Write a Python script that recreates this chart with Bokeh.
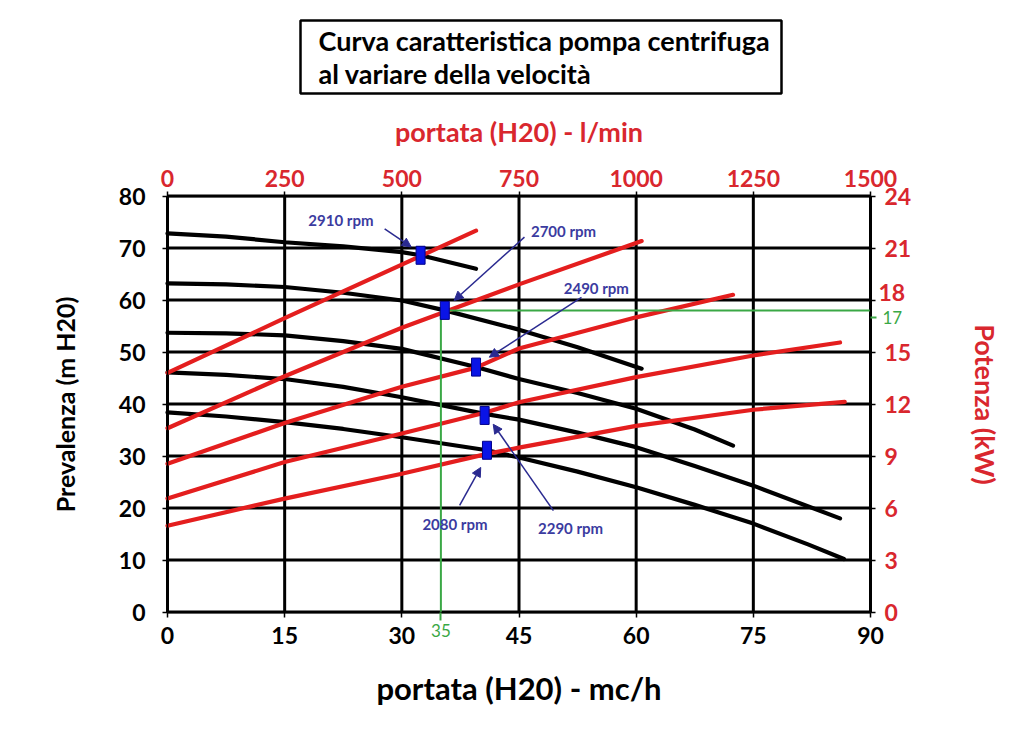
from bokeh.plotting import figure
from bokeh.models import (Range1d, LinearAxis, Arrow, NormalHead, FixedTicker,
                          ColumnDataSource)
from bokeh.embed import file_html
from bokeh.resources import INLINE
from bokeh.core.properties import value

FONT = "Lato"
RED_LINE = "#e41e1e"
RED_TXT = "#d9272e"
BLUE_TXT = "#3b3ba0"
BLUE_ARR = "#2a2a90"
GREEN = "#3aa845"

# ---------------- data ----------------
title_lines = ["Curva caratteristica pompa centrifuga", "al variare della velocità"]
speeds = ["2910 rpm", "2700 rpm", "2490 rpm", "2290 rpm", "2080 rpm"]

# head curves: flow (m3/h) vs head (m H2O)
q_2910 = [0, 7.5, 15, 22.5, 30, 32.4, 39.5]
h_2910 = [72.8, 72.2, 71.1, 70.3, 69.2, 68.6, 66.0]
q_2700 = [0, 7.5, 15, 22.5, 30, 35.5, 45, 52.5, 60.7]
h_2700 = [63.2, 63.0, 62.5, 61.4, 59.9, 58.0, 54.3, 50.9, 46.8]
q_2490 = [0, 7.5, 15, 22.5, 30, 39.5, 45, 52.5, 60, 67.5, 72.4]
h_2490 = [53.7, 53.6, 53.2, 52.1, 50.6, 47.1, 44.8, 42.1, 39.1, 35.1, 32.0]
q_2290 = [0, 7.5, 15, 22.5, 30, 40.6, 45, 52.5, 60, 67.5, 75, 86.1]
h_2290 = [46.1, 45.6, 44.8, 43.3, 41.3, 38.1, 37.0, 34.5, 31.7, 28.1, 24.3, 18.0]
q_2080 = [0, 7.5, 15, 22.5, 30, 40.9, 45, 52.5, 60, 67.5, 75, 82, 86.6]
h_2080 = [38.4, 37.6, 36.5, 35.2, 33.6, 31.1, 29.7, 27.0, 24.0, 20.6, 17.0, 13.0, 10.2]

# power curves: flow (m3/h) vs power (kW)
pq_2910 = [0, 15, 39.5]
pw_2910 = [13.8, 16.95, 22.0]
pq_2700 = [0, 15, 30, 45, 60.7]
pw_2700 = [10.6, 13.6, 16.4, 18.9, 21.4]
pq_2490 = [0, 15, 30, 39.5, 45, 60, 72.4]
pw_2490 = [8.55, 10.9, 13.0, 14.1, 15.2, 17.0, 18.3]
pq_2290 = [0, 15, 30, 40.6, 45, 60, 75, 86.1]
pw_2290 = [6.55, 8.65, 10.3, 11.5, 12.1, 13.55, 14.8, 15.55]
pq_2080 = [0, 15, 30, 40.9, 45, 60, 75, 86.7]
pw_2080 = [4.98, 6.54, 7.98, 9.12, 9.48, 10.74, 11.67, 12.12]

# operating points (flow, head) for each speed
op_q = [32.4, 35.5, 39.5, 40.6, 40.9]
op_h = [68.6, 58.0, 47.1, 37.8, 31.1]

# rpm label positions and arrow start/end points (flow, head)
lab_q = [22.2, 50.7, 54.9, 51.6, 36.8]
lab_h = [75.3, 73.2, 62.4, 16.2, 17.0]
arr_q0 = [27.8, 45.7, 53.0, 49.4, 37.4]
arr_h0 = [73.7, 72.1, 60.5, 19.5, 20.5]
arr_q1 = [31.2, 36.7, 41.2, 41.7, 40.1]
arr_h1 = [70.2, 59.9, 49.0, 36.1, 27.8]

# selected duty point
duty_q = 35
duty_h = 58.0
duty_kw = 17

x_ticks = [0, 15, 30, 45, 60, 75, 90]
y_ticks = [0, 10, 20, 30, 40, 50, 60, 70, 80]
kw_ticks = [0, 3, 6, 9, 12, 15, 18, 21, 24]
lmin_ticks = [0, 250, 500, 750, 1000, 1250, 1500]

Q_MAX, H_MAX, KW_MAX, LMIN_MAX = 90, 80, 24, 1500

# ---------------- layout (pixels) ----------------
W, H = 1016, 744
PL, PR, PT, PB = 167.0, 870.0, 195.5, 611.5   # plot-area edges on the page
LIFT_18 = 8                                   # px the "18" label sits above its tick

sx = Q_MAX / (PR - PL)
sy = H_MAX / (PB - PT)
x0, x1 = -PL * sx, (W - PL) * sx
y0, y1 = -(H - PB) * sy, PB * sy

def px_x(px):
    return (px - PL) * sx

def px_y(py):
    return (PB - py) * sy

p = figure(width=W, height=H, output_backend="svg", toolbar_location=None,
           x_range=Range1d(x0, x1), y_range=Range1d(y0, y1),
           x_axis_type=None, y_axis_type=None, min_border=0,
           outline_line_color=None, background_fill_color="white",
           border_fill_color="white")
p.grid.visible = False
p.extra_y_ranges = {"kw": Range1d(y0 * KW_MAX / H_MAX, y1 * KW_MAX / H_MAX)}
p.extra_x_ranges = {"lmin": Range1d(x0 * LMIN_MAX / Q_MAX, x1 * LMIN_MAX / Q_MAX)}

# grid lines bounded to the plot area
p.segment(x0=x_ticks, x1=x_ticks, y0=[0] * len(x_ticks), y1=[H_MAX] * len(x_ticks),
          line_color="black", line_width=3)
p.segment(x0=[0] * len(y_ticks), x1=[Q_MAX] * len(y_ticks), y0=y_ticks, y1=y_ticks,
          line_color="black", line_width=3)


def style_axis(ax, color, ticks, size="23px"):
    ax.ticker = FixedTicker(ticks=ticks)
    ax.major_label_text_font = FONT
    ax.major_label_text_font_style = "bold"
    ax.major_label_text_font_size = size
    ax.major_label_text_color = color
    ax.axis_label_text_font = FONT
    ax.axis_label_text_font_style = "bold"
    ax.axis_label_text_color = color
    ax.major_tick_in = 0
    ax.major_tick_out = 5
    ax.minor_tick_in = 0
    ax.minor_tick_out = 0
    ax.axis_line_color = "black"
    ax.axis_line_width = 1.5
    ax.major_tick_line_color = "black"
    ax.major_tick_line_width = 1.5


xa = LinearAxis(fixed_location=0, bounds=(0, Q_MAX), axis_label="portata (H20) - mc/h")
style_axis(xa, "black", x_ticks)
xa.axis_label_text_font_size = "31px"
xa.major_label_standoff = 10
xa.axis_label_standoff = 21
p.add_layout(xa, "below")

ya = LinearAxis(fixed_location=0, bounds=(0, H_MAX), axis_label="Prevalenza (m H20)")
style_axis(ya, "black", y_ticks)
ya.axis_label_text_font_size = "25px"
ya.major_label_standoff = 17
ya.axis_label_standoff = 36
p.add_layout(ya, "left")

ra = LinearAxis(y_range_name="kw", fixed_location=Q_MAX, bounds=(0, KW_MAX),
                axis_label="Potenza (kW)")
style_axis(ra, RED_TXT, kw_ticks)
ra.axis_label_text_font_size = "27px"
ra.major_label_overrides = {18: ""}
ra.major_label_standoff = 9
ra.axis_label_standoff = 55
p.add_layout(ra, "right")

ta = LinearAxis(x_range_name="lmin", fixed_location=H_MAX, bounds=(0, LMIN_MAX),
                axis_label="portata (H20) - l/min")
style_axis(ta, RED_TXT, lmin_ticks)
ta.axis_label_text_font_size = "27px"
ta.major_label_standoff = 4
ta.axis_label_standoff = 20
p.add_layout(ta, "above")

# "18" label lifted slightly (room for the green 17)
lift_kw = LIFT_18 * sy * KW_MAX / H_MAX
ra18 = LinearAxis(y_range_name="kw", fixed_location=Q_MAX, bounds=(0, KW_MAX))
style_axis(ra18, RED_TXT, [18 + lift_kw])
ra18.major_label_overrides = {18 + lift_kw: "18"}
ra18.major_tick_out = 0
ra18.axis_line_color = None
ra18.major_label_standoff = 8
p.add_layout(ra18, "right")

# green duty-point tick labels
ga = LinearAxis(y_range_name="kw", fixed_location=Q_MAX, bounds=(0, KW_MAX))
style_axis(ga, GREEN, [duty_kw], size="17px")
ga.major_label_text_font_style = "normal"
ga.major_tick_line_color = GREEN
ga.major_tick_line_width = 2
ga.major_tick_out = 6
ga.axis_line_color = None
ga.major_label_standoff = 6
p.add_layout(ga, "right")

gb = LinearAxis(fixed_location=0, bounds=(0, Q_MAX))
style_axis(gb, GREEN, [duty_q], size="17px")
gb.major_label_text_font_style = "normal"
gb.major_tick_line_color = GREEN
gb.major_tick_line_width = 2
gb.major_tick_out = 8
gb.axis_line_color = None
gb.major_label_standoff = 4
p.add_layout(gb, "below")

# head curves (black)
for q, h in [(q_2910, h_2910), (q_2700, h_2700), (q_2490, h_2490),
             (q_2290, h_2290), (q_2080, h_2080)]:
    p.line(q, h, line_color="black", line_width=4.2, line_cap="round", line_join="round")

# power curves (red), on kW axis
for q, w in [(pq_2910, pw_2910), (pq_2700, pw_2700), (pq_2490, pw_2490),
             (pq_2290, pw_2290), (pq_2080, pw_2080)]:
    p.line(q, w, y_range_name="kw", line_color=RED_LINE, line_width=4.2,
           line_cap="round", line_join="round")

# duty point lines (green)
p.line([duty_q, duty_q], [0, duty_h], line_color=GREEN, line_width=2)
p.line([duty_q, Q_MAX], [duty_h, duty_h], line_color=GREEN, line_width=2)

# operating point markers
p.rect(op_q, op_h, width=9, height=18, width_units="screen", height_units="screen",
       fill_color="#0a14e6", line_color="#00008b", line_width=1)

# arrows
arr_src = ColumnDataSource(dict(x0=arr_q0, y0=arr_h0, x1=arr_q1, y1=arr_h1))
p.add_layout(Arrow(end=NormalHead(size=9, fill_color=BLUE_ARR, line_color=BLUE_ARR),
                   x_start="x0", y_start="y0", x_end="x1", y_end="y1", source=arr_src,
                   line_color=BLUE_ARR, line_width=1.5))

# rpm labels
p.text(lab_q, lab_h, text=speeds, text_font=value(FONT), text_font_style="bold",
       text_font_size="15px", text_color=BLUE_TXT, text_align="center",
       text_baseline="middle")

# title box
p.quad(left=[px_x(300)], right=[px_x(781)], top=[px_y(20)], bottom=[px_y(93)],
       fill_color="white", line_color="black", line_width=2.5)
p.text([px_x(318), px_x(318)], [px_y(40), px_y(73)], text=title_lines,
       text_font=value(FONT), text_font_style="bold", text_font_size="27px",
       text_color="black", text_align="left", text_baseline="middle")

open("out.html", "w").write(file_html(p, INLINE))
